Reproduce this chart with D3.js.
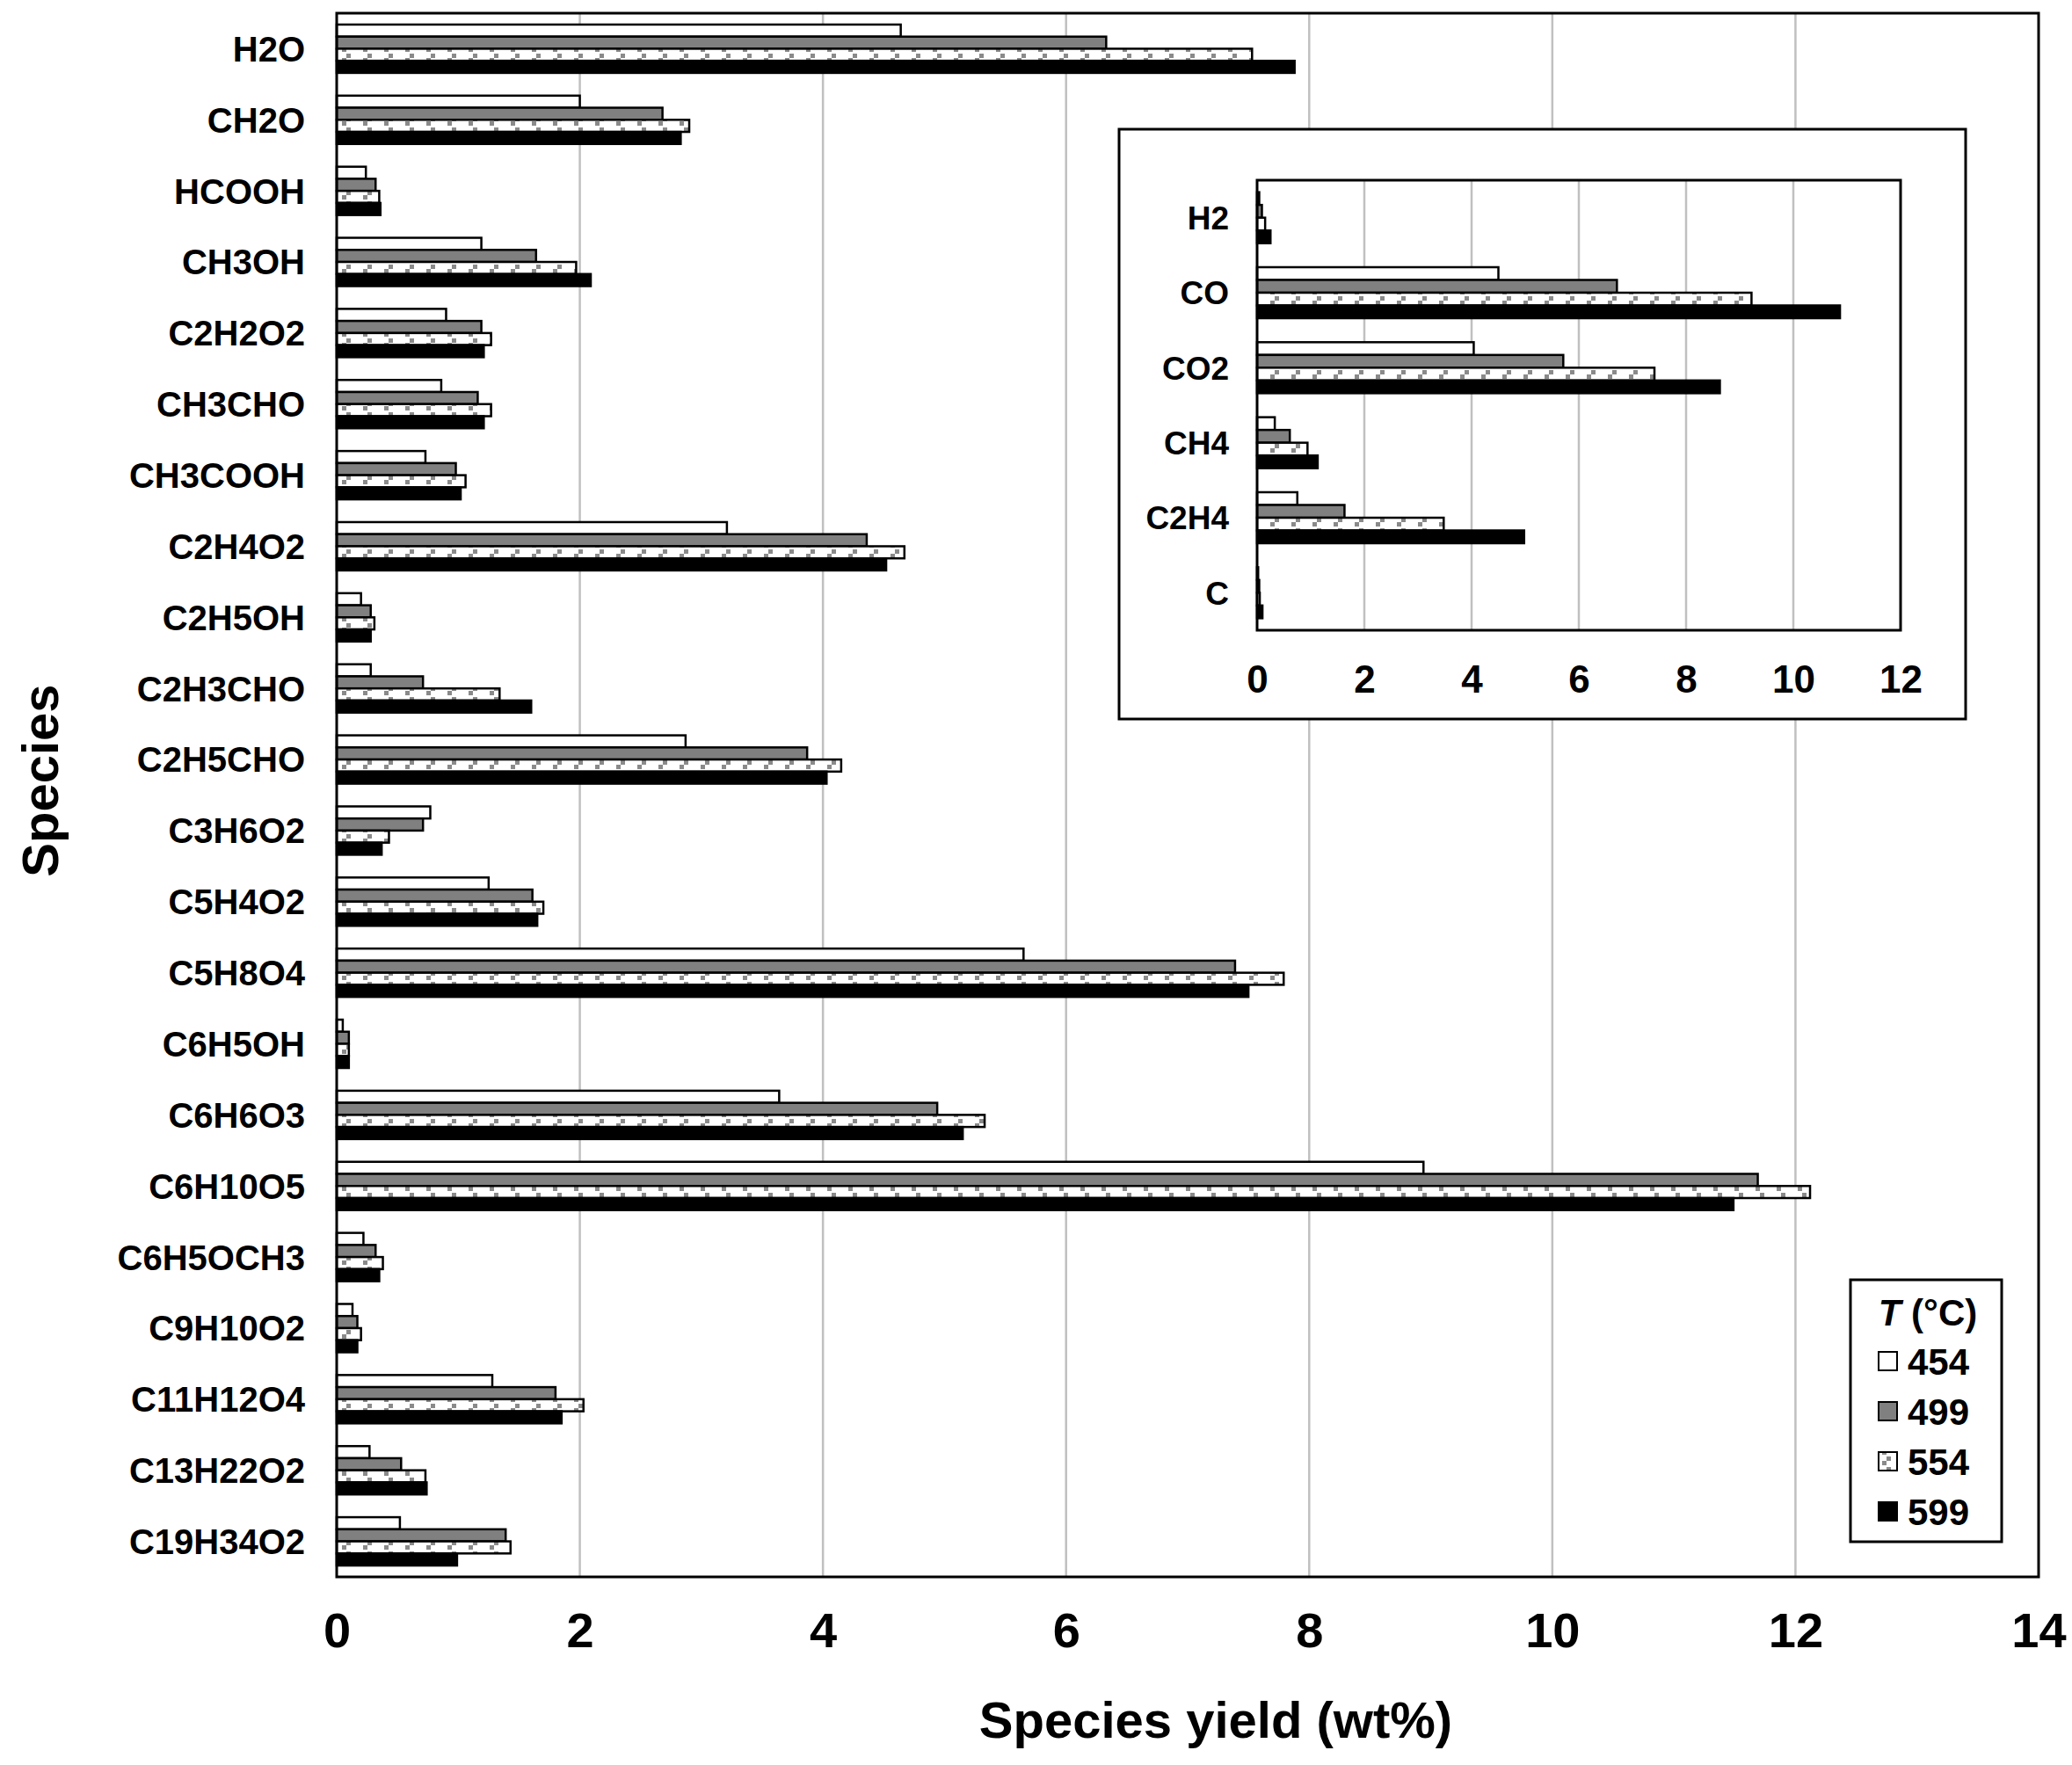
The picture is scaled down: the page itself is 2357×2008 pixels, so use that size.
<!DOCTYPE html>
<html>
<head>
<meta charset="utf-8">
<script src="https://cdn.jsdelivr.net/npm/d3@7"></script>
<style>
  body { margin: 0; background: #fff; }
  text { font-family: "Liberation Sans", Arial, sans-serif; font-weight: bold; fill: #000; }
</style>
</head>
<body>
<div id="chart"></div>
<script>
// main chart data
var species = ["H2O", "CH2O", "HCOOH", "CH3OH", "C2H2O2", "CH3CHO", "CH3COOH", "C2H4O2",
  "C2H5OH", "C2H3CHO", "C2H5CHO", "C3H6O2", "C5H4O2", "C5H8O4", "C6H5OH", "C6H6O3",
  "C6H10O5", "C6H5OCH3", "C9H10O2", "C11H12O4", "C13H22O2", "C19H34O2"];
var temps = ["454", "499", "554", "599"];
var y454 = [4.64, 2.0, 0.24, 1.19, 0.90, 0.86, 0.73, 3.21, 0.20, 0.28, 2.87, 0.77, 1.25, 5.65, 0.05, 3.64, 8.94, 0.22, 0.13, 1.28, 0.27, 0.52];
var y499 = [6.33, 2.68, 0.32, 1.64, 1.19, 1.16, 0.98, 4.36, 0.28, 0.71, 3.87, 0.71, 1.61, 7.39, 0.10, 4.94, 11.69, 0.32, 0.17, 1.80, 0.53, 1.39];
var y554 = [7.53, 2.90, 0.35, 1.97, 1.27, 1.27, 1.06, 4.67, 0.31, 1.34, 4.15, 0.43, 1.70, 7.79, 0.10, 5.33, 12.12, 0.38, 0.20, 2.03, 0.73, 1.43];
var y599 = [7.88, 2.83, 0.36, 2.09, 1.21, 1.21, 1.02, 4.52, 0.28, 1.60, 4.03, 0.37, 1.65, 7.50, 0.10, 5.15, 11.49, 0.35, 0.17, 1.85, 0.74, 0.99];
var mainTicks = [0, 2, 4, 6, 8, 10, 12, 14];

// inset (gases) data
var gases = ["H2", "CO", "CO2", "CH4", "C2H4", "C"];
var g454 = [0.04, 4.50, 4.04, 0.33, 0.75, 0.02];
var g499 = [0.09, 6.71, 5.71, 0.61, 1.63, 0.04];
var g554 = [0.15, 9.22, 7.41, 0.94, 3.48, 0.05];
var g599 = [0.25, 10.87, 8.63, 1.13, 4.98, 0.10];
var insetTicks = [0, 2, 4, 6, 8, 10, 12];

var W = 2357, H = 2008;
var svg = d3.select("#chart").append("svg")
  .attr("width", W).attr("height", H)
  .style("background", "#fff");

// pattern for 554
var defs = svg.append("defs");
var pat = defs.append("pattern")
  .attr("id", "dots").attr("patternUnits", "userSpaceOnUse")
  .attr("width", 24).attr("height", 12);
pat.append("rect").attr("width", 24).attr("height", 12).attr("fill", "#fff");
pat.append("rect").attr("x", 10).attr("y", 1).attr("width", 5).attr("height", 5).attr("fill", "#8a8a8a");
pat.append("rect").attr("x", 5).attr("y", 6).attr("width", 5).attr("height", 5).attr("fill", "#8a8a8a");

var fills = {"454": "#fff", "499": "#808080", "554": "url(#dots)", "599": "#000"};

function drawPanel(g, cats, series, ticks, box, labelSize, labelGap, tickSize, tickY) {
  var x = d3.scaleLinear().domain([0, ticks[ticks.length - 1]]).range([box.left, box.right]);
  var y = d3.scaleBand().domain(cats).range([box.top, box.bottom]);
  var bw = y.bandwidth();
  var ySub = d3.scaleBand().domain(temps).range([bw * 0.16, bw * 0.84]);

  // gridlines
  g.append("g").selectAll("line")
    .data(ticks.slice(1, -1)).enter().append("line")
    .attr("x1", d => x(d)).attr("x2", d => x(d))
    .attr("y1", box.top).attr("y2", box.bottom)
    .attr("stroke", "#c0c0c0").attr("stroke-width", 2.5);

  // bars
  temps.forEach(function(t, i) {
    g.append("g").selectAll("rect")
      .data(series[i]).enter().append("rect")
      .attr("x", x(0))
      .attr("y", (d, j) => y(cats[j]) + ySub(t))
      .attr("width", d => x(d) - x(0))
      .attr("height", ySub.bandwidth())
      .attr("fill", fills[t])
      .attr("stroke", "#000").attr("stroke-width", 2.5);
  });

  // frame
  g.append("rect")
    .attr("x", box.left).attr("y", box.top)
    .attr("width", box.right - box.left).attr("height", box.bottom - box.top)
    .attr("fill", "none").attr("stroke", "#000").attr("stroke-width", 3);

  // category labels
  g.append("g").selectAll("text")
    .data(cats).enter().append("text")
    .attr("x", box.left - labelGap)
    .attr("y", d => y(d) + bw / 2)
    .attr("dy", "0.36em")
    .attr("text-anchor", "end")
    .attr("font-size", labelSize)
    .text(d => d);

  // x axis labels
  var axis = g.append("g")
    .attr("transform", `translate(0, ${tickY})`)
    .call(d3.axisBottom(x).tickValues(ticks).tickSize(0).tickPadding(0));
  axis.select(".domain").remove();
  axis.selectAll("text")
    .attr("font-size", tickSize)
    .attr("font-family", null)
    .attr("dy", "0.36em")
    .attr("y", 0);
}

// main panel
var mainG = svg.append("g");
drawPanel(mainG, species, [y454, y499, y554, y599], mainTicks,
  {left: 383, right: 2319, top: 15, bottom: 1794}, 40, 36, 56, 1854);

// axis titles
svg.append("text")
  .attr("x", 1383).attr("y", 1956).attr("dy", "0.36em")
  .attr("text-anchor", "middle").attr("font-size", 58)
  .text("Species yield (wt%)");
svg.append("text")
  .attr("transform", "translate(45, 888) rotate(-90)")
  .attr("dy", "0.36em")
  .attr("text-anchor", "middle").attr("font-size", 58)
  .text("Species");

// inset
var insetG = svg.append("g");
insetG.append("rect")
  .attr("x", 1273).attr("y", 147).attr("width", 963).attr("height", 671)
  .attr("fill", "#fff").attr("stroke", "#000").attr("stroke-width", 3);
drawPanel(insetG, gases, [g454, g499, g554, g599], insetTicks,
  {left: 1430, right: 2162, top: 205, bottom: 717}, 37, 32, 44, 772);

// legend
var leg = svg.append("g");
leg.append("rect")
  .attr("x", 2105).attr("y", 1456).attr("width", 172).attr("height", 298)
  .attr("fill", "#fff").attr("stroke", "#000").attr("stroke-width", 3);
var legTitle = leg.append("text")
  .attr("x", 2193).attr("y", 1493).attr("dy", "0.36em")
  .attr("text-anchor", "middle").attr("font-size", 42);
legTitle.append("tspan").attr("font-style", "italic").text("T");
legTitle.append("tspan").text(" (°C)");
var legY = d3.scalePoint().domain(temps).range([1549, 1720]);
temps.forEach(function(t) {
  leg.append("rect")
    .attr("x", 2137).attr("y", legY(t) - 11)
    .attr("width", 21).attr("height", 21)
    .attr("fill", fills[t]).attr("stroke", "#000").attr("stroke-width", 2);
  leg.append("text")
    .attr("x", 2170).attr("y", legY(t)).attr("dy", "0.36em")
    .attr("font-size", 42)
    .text(t);
});
</script>
</body>
</html>
